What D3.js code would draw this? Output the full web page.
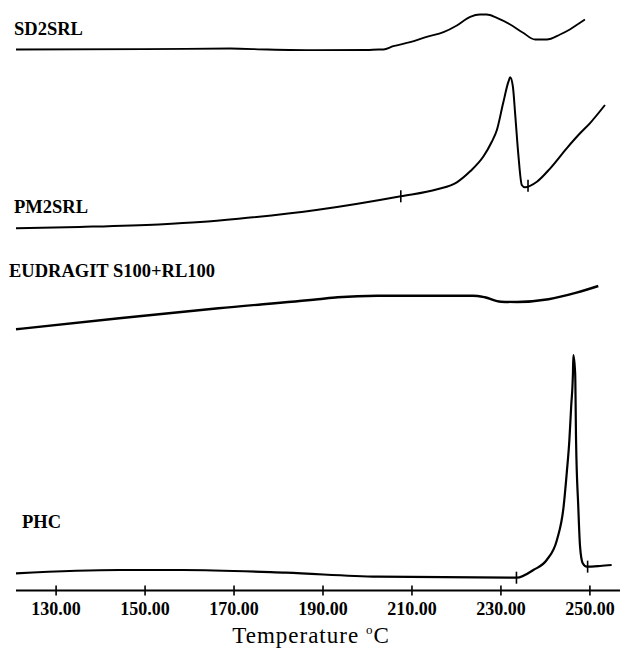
<!DOCTYPE html>
<html><head><meta charset="utf-8">
<script src="https://cdn.jsdelivr.net/npm/d3@7"></script>
<style>html,body{margin:0;padding:0;background:#fff;}svg{display:block;}</style>
</head><body>
<svg id="chart" width="620" height="649"></svg>
<script>
// Temperatures (°C) and heat-flow deflections (arbitrary units, upward = positive)
const seriesNames = ["SD2SRL", "PM2SRL", "EUDRAGIT S100+RL100", "PHC"];

const sd2srlT = [121.1,150,169.3,177.6,188.5,200,202.6,203.7,205.9,209.7,213.4,217.2,220.2,223.2,225.4,226.9,229.2,232.2,235.1,237.8,240.4,243.4,245.6,247.9,249.0];
const sd2srlV = [0,0.3,1,0,-0.7,-0.5,0,0,3.3,7.3,12.7,17.3,24,32.7,35,35,31.7,25,16.7,10,10,15,20,26.7,30];

const pm2srlT = [121.1,135.4,153.2,162.5,171.1,189.0,207.6,215.8,220.2,223.2,226.2,228.0,229.2,230.6,231.8,232.2,232.8,233.3,234.0,234.8,235.5,238.2,241.2,244.9,247.9,250.1,253.5];
const pm2srlV = [0,1.4,3.9,6.2,9.5,18.5,32,39,46,57,72,86,98.3,125,146.6,151,141.6,115,75,43.3,41,46.6,60,80,95,105,123.3];

const eudT = [121.1,144.3,166.6,189.0,193.4,202.4,223.8,226.5,230.1,233.7,240.8,247.1,252.0];
const eudV = [0,11,21,30,32,33.6,33.6,32,27.6,27.3,30,36.6,43.3];

const phcT = [121.1,144.3,158.6,181.8,202.4,233.7,237.4,240.4,242.7,244.2,244.9,245.5,245.9,246.3,246.4,246.8,247.0,247.5,247.9,248.5,249.4,252.4,255.0];
const phcV = [0,3.3,3.3,0.6,-3.4,-4.4,3.3,13.3,33.3,66.6,100,133.3,166.6,200,218.3,200,133.3,66.6,26.6,10,6.6,7.3,8.3];

// onset / endset marker temperatures
const pm2srlMarks = [207.6, 236.2];
const phcMarks = [233.6, 249.6];

const tickValues = [130, 150, 170, 190, 210, 230, 250];
const tickLabels = ["130.00","150.00","170.00","190.00","210.00","230.00","250.00"];
const axisTitle = "Temperature ";

// ---------- layout ----------
const svg = d3.select("#chart");
const x = d3.scaleLinear().domain([130, 250]).range([55.6, 589.4]);
const dy = d3.scaleLinear().domain([0, 100]).range([0, -100]);
const axisY = 590.5;
const fontStack = "'Liberation Serif','Times New Roman',Times,serif";

const curves = [
  {name: seriesNames[0], T: sd2srlT, V: sd2srlV, base: 49.5,  lx: 14, ly: 35,  marks: [], sw: 1.8},
  {name: seriesNames[1], T: pm2srlT, V: pm2srlV, base: 228.3, lx: 14, ly: 213, marks: pm2srlMarks, sw: 2},
  {name: seriesNames[2], T: eudT,    V: eudV,    base: 329.3, lx: 9,  ly: 277, marks: [], sw: 2.4},
  {name: seriesNames[3], T: phcT,    V: phcV,    base: 573.3, lx: 22, ly: 528, marks: phcMarks, sw: 2.2}
];

curves.forEach(c => {
  const pts = c.T.map((t, i) => ({t, v: c.V[i]}));
  const line = d3.line()
    .x(d => x(d.t))
    .y(d => c.base + dy(d.v))
    .curve(d3.curveMonotoneX);
  svg.append("path")
    .datum(pts)
    .attr("d", line)
    .attr("fill", "none")
    .attr("stroke", "#000")
    .attr("stroke-width", c.sw)
    .attr("stroke-linejoin", "round");

  const interp = t => {
    const i = d3.bisectLeft(c.T, t);
    if (i <= 0) return c.V[0];
    if (i >= c.T.length) return c.V[c.T.length - 1];
    const f = (t - c.T[i-1]) / (c.T[i] - c.T[i-1]);
    return c.V[i-1] + f * (c.V[i] - c.V[i-1]);
  };
  c.marks.forEach(m => {
    const yy = c.base + dy(interp(m));
    svg.append("line")
      .attr("x1", x(m)).attr("x2", x(m))
      .attr("y1", yy - 6).attr("y2", yy + 6)
      .attr("stroke", "#000").attr("stroke-width", 1.6);
  });

  svg.append("text")
    .attr("x", c.lx).attr("y", c.ly)
    .attr("font-family", fontStack)
    .attr("font-weight", "bold")
    .attr("font-size", 18.5)
    .attr("fill", "#000")
    .text(c.name);
});

// ---------- x axis ----------
const xAxis = d3.axisBottom(x)
  .tickValues(tickValues)
  .tickFormat((d, i) => tickLabels[i])
  .tickSize(0)
  .tickPadding(12);

const g = svg.append("g").attr("transform", `translate(0,${axisY})`).call(xAxis);
g.select(".domain").remove();
g.append("line")
  .attr("x1", 16).attr("x2", 620)
  .attr("y1", 0).attr("y2", 0)
  .attr("stroke", "#000").attr("stroke-width", 2);
g.selectAll(".tick").append("line")
  .attr("y1", -5).attr("y2", 5)
  .attr("stroke", "#000").attr("stroke-width", 1.6);
g.selectAll(".tick text")
  .attr("font-family", fontStack)
  .attr("font-weight", "bold")
  .attr("font-size", 18)
  .attr("fill", "#000");

const title = svg.append("text")
  .attr("x", 311).attr("y", 643)
  .attr("text-anchor", "middle")
  .attr("font-family", fontStack)
  .attr("font-size", 23)
  .attr("letter-spacing", 1)
  .attr("fill", "#000");
title.append("tspan").text(axisTitle);
title.append("tspan").attr("font-size", 13).attr("dy", -9).text("o");
title.append("tspan").attr("dy", 9).text("C");
</script>
</body></html>
